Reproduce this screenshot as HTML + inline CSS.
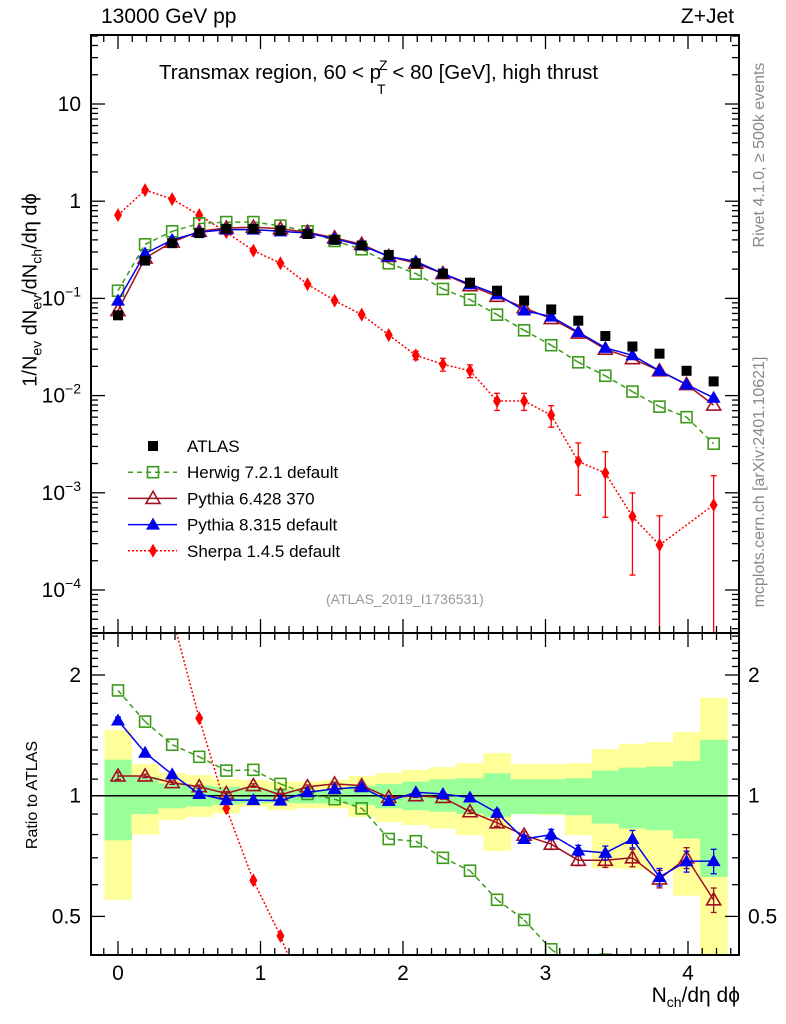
<!DOCTYPE html>
<html><head><meta charset="utf-8"><style>
html,body{margin:0;padding:0;background:#fff;width:786px;height:1024px;overflow:hidden;}
svg{display:block;font-family:"Liberation Sans",sans-serif;}
sub{line-height:0;}
</style></head><body>
<svg id="chart" width="786" height="1024" viewBox="0 0 786 1024" xmlns="http://www.w3.org/2000/svg" style="position:absolute;left:0;top:0;overflow:hidden;">
<defs>
<clipPath id="clipMain"><rect x="91" y="35" width="648" height="598"/></clipPath>
<clipPath id="clipRatio"><rect x="91" y="633" width="648" height="322"/></clipPath>
</defs>
<g id="bands" clip-path="url(#clipRatio)"></g>
<g id="marks"></g>
<g id="axes"></g>
</svg>
<script>
// ---- data ----
const xvals = [0,0.19,0.38,0.57,0.76,0.95,1.14,1.33,1.52,1.71,1.9,2.09,2.28,2.47,2.66,2.85,3.04,3.23,3.42,3.61,3.8,3.99,4.18];
const atlas = [0.067,0.245,0.37,0.47,0.52,0.52,0.50,0.46,0.40,0.35,0.28,0.23,0.18,0.145,0.12,0.095,0.077,0.059,0.041,0.032,0.027,0.018,0.014];
const herwig = [0.12,0.36,0.49,0.59,0.61,0.61,0.56,0.49,0.39,0.32,0.23,0.18,0.125,0.097,0.068,0.047,0.033,0.022,0.016,0.011,0.0077,0.006,0.0032];
const pythia6 = [0.075,0.26,0.38,0.49,0.53,0.54,0.52,0.48,0.42,0.36,0.27,0.23,0.18,0.135,0.105,0.08,0.062,0.044,0.030,0.024,0.018,0.013,0.008];
const pythia8 = [0.095,0.29,0.40,0.48,0.51,0.51,0.49,0.47,0.41,0.35,0.27,0.24,0.18,0.14,0.11,0.075,0.065,0.045,0.031,0.026,0.018,0.013,0.0095];
const sherpa = [0.72,1.3,1.05,0.72,0.48,0.31,0.23,0.14,0.095,0.068,0.042,0.026,0.021,0.018,0.0088,0.0088,0.0063,0.0021,0.0016,0.00057,0.00029,null,0.00075];
const sherpaRelErr = [0,0,0,0,0,0,0,0,0,0,0,0.1,0.15,0.15,0.2,0.2,0.25,0.55,0.65,0.75,1.0,0,1.0];
const herwigRatio = [1.83,1.53,1.34,1.25,1.155,1.16,1.07,1.01,0.98,0.93,0.78,0.77,0.70,0.65,0.55,0.49,0.414,0.37,0.39,0.34,0.29,0.33,0.23];
const pythia6Ratio = [1.12,1.12,1.078,1.053,1.013,1.06,1.004,1.053,1.07,1.06,0.99,1.0,0.99,0.912,0.856,0.797,0.757,0.69,0.69,0.70,0.62,0.70,0.55];
const pythia8Ratio = [1.54,1.28,1.13,1.01,0.975,0.975,0.972,1.02,1.04,1.05,0.97,1.02,1.01,0.99,0.906,0.78,0.80,0.73,0.72,0.78,0.627,0.686,0.687];
const sherpaRatio = [10.7,5.4,2.8,1.56,0.93,0.615,0.447,0.3,0.24,0.19,0.15,0.11,0.12,0.12,0.07,0.09,0.08,0.035,0.04,0.018,0.011,null,0.05];
const ratioErr = [0.02,0.01,0.01,0.01,0.01,0.01,0.01,0.01,0.01,0.01,0.01,0.01,0.01,0.01,0.02,0.02,0.03,0.03,0.04,0.05,0.05,0.06,0.07];
const yellowLo = [0.55,0.80,0.87,0.886,0.903,0.939,0.92,0.93,0.93,0.886,0.86,0.845,0.828,0.797,0.728,0.903,0.894,0.797,0.66,0.657,0.651,0.563,0.3];
const yellowHi = [1.46,1.20,1.14,1.125,1.099,1.095,1.084,1.084,1.095,1.12,1.14,1.16,1.178,1.205,1.277,1.20,1.20,1.205,1.307,1.347,1.36,1.44,1.755];
const greenLo = [0.774,0.90,0.93,0.939,0.951,0.957,0.96,0.957,0.957,0.947,0.93,0.92,0.912,0.90,0.886,0.90,0.90,0.894,0.852,0.828,0.82,0.782,0.627];
const greenHi = [1.23,1.116,1.074,1.06,1.053,1.043,1.033,1.033,1.037,1.057,1.07,1.084,1.099,1.105,1.137,1.099,1.099,1.105,1.155,1.175,1.182,1.221,1.379];
const xTicks = [0,1,2,3,4];
const mainDecades = [1,0,-1,-2,-3,-4];
const ratioTickLabels = [0.5,1,2];

// ---- axes functions ----
const X0=91, X1=739, MT=35, MB=633, RB=955;
const xs = v => 118 + v*142.5;
const ym = v => 104 + (1 - Math.log10(v))*97.2;
const yr = r => 795.7 - Math.log10(r)*401;
const NS="http://www.w3.org/2000/svg";
function mk(tag, attrs, parent, txt){
  const e=document.createElementNS(NS,tag);
  for(const k in attrs) e.setAttribute(k,attrs[k]);
  if(txt!==undefined) e.textContent=txt;
  parent.appendChild(e); return e;
}
const bands=document.getElementById('bands');
const marks=document.getElementById('marks');
const axes=document.getElementById('axes');

const bw = 0.19;
for(let i=0;i<xvals.length;i++){
  const xa=xs(xvals[i]-bw/2), xb=xs(xvals[i]+bw/2);
  const yh=Math.max(yr(yellowHi[i]),MT), yl=Math.min(yr(yellowLo[i]),RB);
  const y1=mk('rect',{x:xa,y:yh,width:xb-xa+0.5,height:yl-yh,fill:'#ffff99'},bands);
  
  
  const g1=mk('rect',{x:xa,y:yr(greenHi[i]),width:xb-xa+0.5,height:yr(greenLo[i])-yr(greenHi[i]),fill:'#99ff99'},bands);
  
  
}
const one=mk('line',{x1:X0,x2:X1,y1:yr(1),y2:yr(1),stroke:'#000','stroke-width':1.5},bands);



function marker(type,cx,cy,color,parent){
  let e;
  if(type==='square') e=mk('rect',{x:cx-5,y:cy-5,width:10,height:10,fill:'#000'},parent);
  else if(type==='osquare') e=mk('rect',{x:cx-5.5,y:cy-5.5,width:11,height:11,fill:'none',stroke:color,'stroke-width':1.6},parent);
  else if(type==='otri') e=mk('polygon',{points:`${cx},${cy-7} ${cx-7},${cy+5} ${cx+7},${cy+5}`,fill:'none',stroke:color,'stroke-width':1.6},parent);
  else if(type==='tri') e=mk('polygon',{points:`${cx},${cy-7} ${cx-7},${cy+5} ${cx+7},${cy+5}`,fill:color},parent);
  else e=mk('polygon',{points:`${cx},${cy-7} ${cx-4},${cy} ${cx},${cy+7} ${cx+4},${cy}`,fill:color},parent);
  return e;
}
// clip a segment to [ylo,yhi] vertical range
function clipSeg(x1,y1,x2,y2,lo,hi){
  function cl(ax,ay,bx,by){
    if(ay<lo){ const t=(lo-ay)/(by-ay); return [ax+(bx-ax)*t,lo]; }
    if(ay>hi){ const t=(hi-ay)/(by-ay); return [ax+(bx-ax)*t,hi]; }
    return [ax,ay];
  }
  if((y1<lo&&y2<lo)||(y1>hi&&y2>hi)) return null;
  return [cl(x1,y1,x2,y2),cl(x2,y2,x1,y1)];
}
function series(name,vals,yf,type,color,dash,clip,errs,lo,hi){
  const g=mk('g',{'clip-path':`url(#${clip})`},marks);
  
  
  let d='', prev=null;
  for(let i=0;i<vals.length;i++){
    if(vals[i]==null) continue;
    const p=[xs(xvals[i]),yf(vals[i])];
    if(prev){
      const s=clipSeg(prev[0],prev[1],p[0],p[1],lo,hi);
      if(s) d+='M'+s[0][0].toFixed(1)+','+s[0][1].toFixed(1)+'L'+s[1][0].toFixed(1)+','+s[1][1].toFixed(1);
    }
    prev=p;
  }
  const p=mk('path',{d:d||'M0,0',fill:'none',stroke:color,'stroke-width':1.5,'stroke-dasharray':dash},g);
  
  
  for(let i=0;i<vals.length;i++){
    if(vals[i]==null) continue;
    const cx=xs(xvals[i]), cy=yf(vals[i]);
    if(cy<lo-8||cy>hi+8) continue;
    if(errs && errs[i]>0){
      const l=vals[i]*(1-errs[i]), h=vals[i]*(1+errs[i]);
      const ylo= l>0? Math.min(yf(l),hi):hi, yhi=Math.max(yf(h),lo);
      mk('line',{x1:cx,x2:cx,y1:yhi,y2:ylo,stroke:color,'stroke-width':1.3},g);
      mk('line',{x1:cx-3,x2:cx+3,y1:yhi,y2:yhi,stroke:color,'stroke-width':1.3},g);
      if(l>0 && yf(l)<hi) mk('line',{x1:cx-3,x2:cx+3,y1:ylo,y2:ylo,stroke:color,'stroke-width':1.3},g);
    }
    const m=marker(type,cx,cy,color,g);
    
    
  }
}
series('sherpa-main',sherpa,ym,'diamond','#ff0000','2,2','clipMain',sherpaRelErr,MT,MB);
series('herwig-main',herwig,ym,'osquare','#3d9a1a','5,4','clipMain',null,MT,MB);
series('pythia6-main',pythia6,ym,'otri','#a01020','none','clipMain',null,MT,MB);
series('pythia8-main',pythia8,ym,'tri','#0000ee','none','clipMain',null,MT,MB);
{
  const g=mk('g',{},marks);
  
  
  for(let i=0;i<xvals.length;i++){
    const m=marker('square',xs(xvals[i]),ym(atlas[i]),'#000',g);
    
    
  }
}
series('sherpa-ratio',sherpaRatio,yr,'diamond','#ff0000','2,2','clipRatio',null,MB,RB);
series('herwig-ratio',herwigRatio,yr,'osquare','#3d9a1a','5,4','clipRatio',null,MB,RB);
series('pythia6-ratio',pythia6Ratio,yr,'otri','#a01020','none','clipRatio',ratioErr,MB,RB);
series('pythia8-ratio',pythia8Ratio,yr,'tri','#0000ee','none','clipRatio',ratioErr,MB,RB);

function line(x1,y1,x2,y2,w){ return mk('line',{x1,y1,x2,y2,stroke:'#000','stroke-width':w||1.3},axes); }
const fm=mk('rect',{x:X0,y:MT,width:X1-X0,height:MB-MT,fill:'none',stroke:'#000','stroke-width':2},axes);


const fr=mk('rect',{x:X0,y:MB,width:X1-X0,height:RB-MB,fill:'none',stroke:'#000','stroke-width':2},axes);


for(let k=-1;k<=43;k++){
  const v=k/10, x=xs(v); if(x<X0+1||x>X1-1) continue;
  const major = k%10===0, L = major?14:7;
  line(x,MB,x,MB-L); line(x,MT,x,MT+L);
  line(x,RB,x,RB-L); line(x,MB,x,MB+L);
}
for(const t of xTicks){
  const e=mk('text',{x:xs(t),y:980,'font-size':21,'text-anchor':'middle'},axes,String(t));
  
  
}
for(let dec=-5;dec<=1;dec++){
  for(let m=1;m<=9;m++){
    const v=m*Math.pow(10,dec), y=ym(v);
    if(y<MT+1||y>MB-1) continue;
    const L=m===1?14:7;
    line(X0,y,X0+L,y); line(X1,y,X1-L,y);
  }
}
for(const d of mainDecades){
  const y=ym(Math.pow(10,d))+7;
  let e;
  if(d===1) e=mk('text',{x:81,y:y,'font-size':21,'text-anchor':'end'},axes,'10');
  else if(d===0) e=mk('text',{x:81,y:y,'font-size':21,'text-anchor':'end'},axes,'1');
  else { e=mk('text',{x:81,y:y,'font-size':21,'text-anchor':'end'},axes);
    mk('tspan',{},e,'10'); mk('tspan',{dy:-9,'font-size':14},e,'\u2212'+(-d)); }
  
  
}
for(let r=0.4;r<=2.55;r+=0.1){
  const y=yr(r); if(y<MB+1||y>RB-1) continue;
  const major=Math.abs(r-0.5)<1e-6||Math.abs(r-1)<1e-6||Math.abs(r-2)<1e-6;
  const L=major?14:7;
  line(X0,y,X0+L,y); line(X1,y,X1-L,y);
}
for(const r of ratioTickLabels){
  const e1=mk('text',{x:81,y:yr(r)+7,'font-size':21,'text-anchor':'end'},axes,String(r));
  
  
  const e2=mk('text',{x:748,y:yr(r)+7,'font-size':21,'text-anchor':'start'},axes,String(r));
  
  
}

const leg=[['ATLAS','square','#000','none',false],['Herwig 7.2.1 default','osquare','#3d9a1a','5,4',true],['Pythia 6.428 370','otri','#a01020','none',true],['Pythia 8.315 default','tri','#0000ee','none',true],['Sherpa 1.4.5 default','diamond','#ff0000','2,2',true]];
const lg=mk('g',{},axes);


leg.forEach((l,i)=>{
  const y=446+i*26.2;
  const g=mk('g',{},lg);
  
  
  if(l[4]) mk('line',{x1:128,x2:177,y1:y,y2:y,stroke:l[2],'stroke-width':1.5,'stroke-dasharray':l[3]},g);
  marker(l[1],153,y,l[2],g);
  mk('text',{x:187,y:y+6,'font-size':17},g,l[0]);
});
</script>
<div style="position:absolute;left:0;top:0;width:786px;height:1024px;overflow:hidden;pointer-events:none;font-family:'Liberation Sans',sans-serif;">
<div style="position:absolute;left:101px;top:5px;font-size:21px;">13000 GeV pp</div>
<div style="position:absolute;right:52px;top:5px;font-size:21px;">Z+Jet</div>
<div style="position:absolute;left:159px;top:61px;font-size:20.5px;white-space:nowrap;">Transmax region, 60 &lt; p<span style="position:relative;display:inline-block;width:0;"><span style="position:absolute;left:-2px;top:-22px;font-size:14px;">Z</span><span style="position:absolute;left:-4px;top:2px;font-size:14px;">T</span></span>&nbsp;&nbsp;&lt; 80 [GeV], high thrust</div>
<div style="position:absolute;left:31px;top:290px;transform:translate(-50%,-50%) rotate(-90deg);font-size:20px;white-space:nowrap;">1/N<sub style="font-size:14px">ev</sub> dN<sub style="font-size:14px">ev</sub>/dN<sub style="font-size:14px">ch</sub>/dη dϕ</div>
<div style="position:absolute;left:33px;top:795px;transform:translate(-50%,-50%) rotate(-90deg);font-size:16px;white-space:nowrap;">Ratio to ATLAS</div>
<div style="position:absolute;left:760px;top:155px;transform:translate(-50%,-50%) rotate(-90deg);font-size:16px;color:#888;white-space:nowrap;">Rivet 4.1.0, ≥ 500k events</div>
<div style="position:absolute;left:760px;top:482px;transform:translate(-50%,-50%) rotate(-90deg);font-size:16px;color:#888;white-space:nowrap;">mcplots.cern.ch [arXiv:2401.10621]</div>
<div style="position:absolute;left:326px;top:591px;font-size:14px;color:#999;">(ATLAS_2019_I1736531)</div>
<div style="position:absolute;right:46px;top:984px;font-size:21px;line-height:24px;white-space:nowrap;">N<sub style="font-size:14px">ch</sub>/dη dϕ</div>
</div>
</body></html>
